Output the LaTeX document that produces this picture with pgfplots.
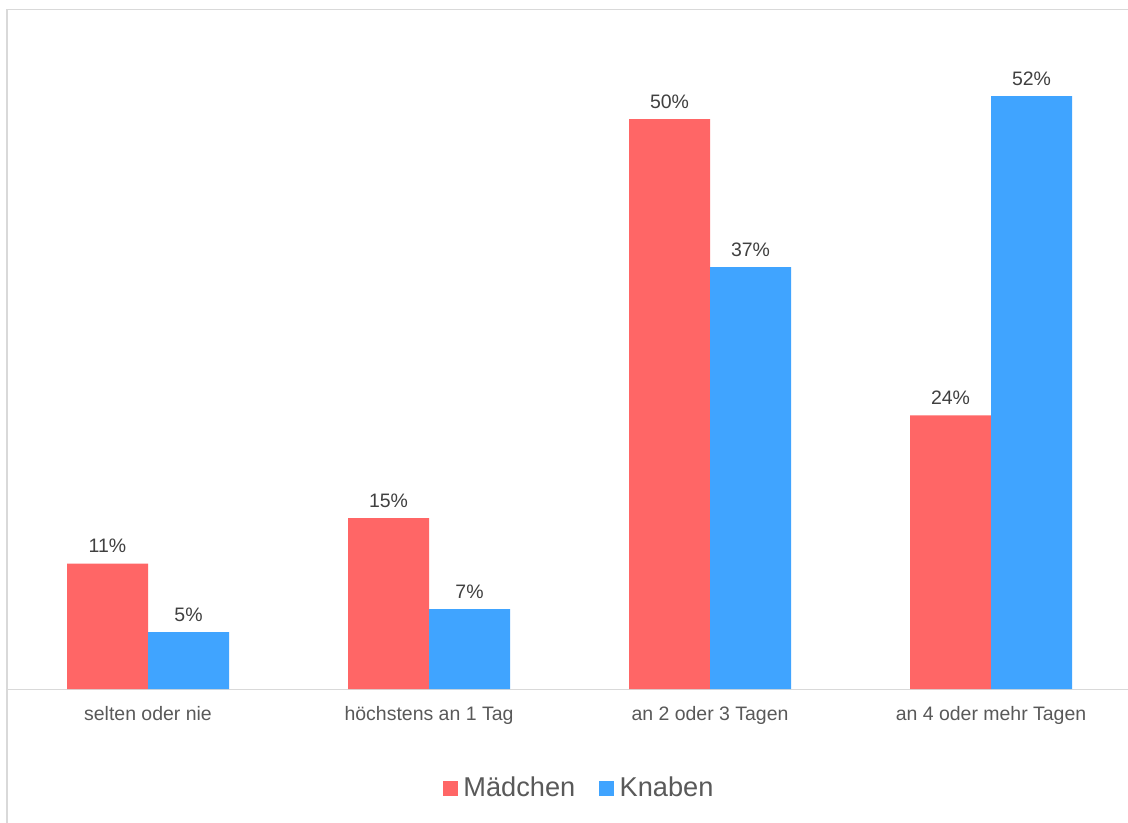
\documentclass[border=0pt]{standalone}
\usepackage{pgfplots}
\pgfplotsset{compat=1.18}
\usepackage{fontspec}
\setmainfont{Liberation Sans}
\definecolor{cred}{RGB}{255,102,102}
\definecolor{cblue}{RGB}{64,164,255}
\definecolor{cgrid}{RGB}{217,217,217}
\definecolor{ctick}{RGB}{89,89,89}
\definecolor{clabel}{RGB}{64,64,64}
\begin{document}
\begin{tikzpicture}
\useasboundingbox (0,0) rectangle (846pt,-616.5pt);
\clip (0,0) rectangle (846pt,-616.5pt);
\fill[white] (0,0) rectangle (846pt,-616.5pt);
\draw[cgrid, line width=0.9pt] (5.3pt,-640pt) -- (5.3pt,-7.1pt) -- (870pt,-7.1pt);
\begin{axis}[
  at={(5.625pt,-516.75pt)}, anchor=south west,
  scale only axis, width=843pt, height=495.9pt,
  xmin=-0.5, xmax=3.5, ymin=0, ymax=58,
  axis x line*=bottom, axis y line=none,
  x axis line style={draw=cgrid, line width=0.75pt, -},
  xtick={0,1,2,3},
  xticklabels={selten oder nie, höchstens an 1 Tag, an 2 oder 3 Tagen, an 4 oder mehr Tagen},
  major tick length=0pt,
  xticklabel style={font=\fontsize{14.6}{16}\selectfont, text=ctick, yshift=-9.5pt},
  ybar=0pt, bar width=60.75pt,
  /pgf/number format/assume math mode=true,
  nodes near coords={\pgfmathprintnumber{\pgfplotspointmeta}\%},
  every node near coord/.append style={font=\fontsize{14.6}{16}\selectfont, text=clabel, anchor=base, inner sep=0pt, yshift=8.25pt},
  legend columns=2,
  legend style={at={(0.509,-0.1498)}, anchor=center, draw=none, fill=none,
    font=\fontsize{20.4}{22}\selectfont, text=ctick,
    /tikz/every even column/.append style={column sep=16pt},
    /tikz/every odd column/.append style={column sep=0pt}},
  legend image code/.code={\fill[#1] (0pt,-5.625pt) rectangle (11.25pt,5.625pt);},
  legend cell align=left,
]
\addplot[fill=cred, draw=none] coordinates {(0,11) (1,15) (2,50) (3,24)};
\addplot[fill=cblue, draw=none] coordinates {(0,5) (1,7) (2,37) (3,52)};
\legend{\hspace{2pt}Mädchen, \hspace{2pt}Knaben}
\end{axis}
\end{tikzpicture}
\end{document}
